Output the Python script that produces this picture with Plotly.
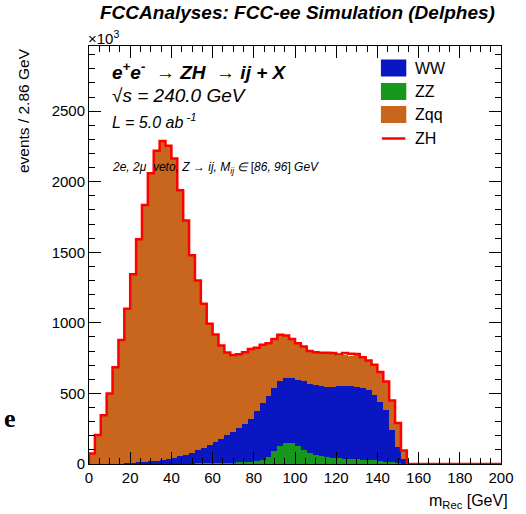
import numpy as np
import plotly.graph_objects as go

# ---------------- data (70 bins, 0-200 GeV, 2.86 GeV per bin) ----------------
x_lo, x_hi, n_bins = 0.0, 200.0, 70

zz = [0, 0, 0, 0, 0, 0, 0, 0, 1, 1, 1, 1, 1, 2, 2, 2, 3, 3, 4, 4,
      5, 6, 7, 8, 10, 12, 14, 17, 22, 30, 50, 92, 128, 152, 148, 125, 100, 80, 66, 56,
      48, 43, 40, 37, 35, 32, 30, 28, 25, 20, 15, 12, 7, 3, 0, 0, 0, 0, 0, 0,
      0, 0, 0, 0, 0, 0, 0, 0, 0, 0]

ww = [0, 0, 1, 1, 2, 3, 5, 8, 10, 14, 18, 23, 29, 34, 42, 52, 63, 77, 92, 110,
      129, 150, 173, 196, 218, 240, 266, 305, 353, 402, 434, 448, 460, 460, 458, 467, 485, 490, 492, 494,
      498, 505, 510, 513, 515, 513, 508, 494, 465, 420, 365, 228, 113, 35, 0, 0, 0, 0, 0, 0,
      0, 0, 0, 0, 0, 0, 0, 0, 0, 0]

zqq = [75, 205, 344, 499, 683, 875, 1095, 1337, 1581, 1820, 2041, 2196, 2258, 2219, 2121, 1886, 1659, 1400, 1204, 1021,
       859, 762, 660, 586, 545, 526, 512, 493, 448, 413, 372, 346, 327, 298, 280, 264, 247, 230, 234, 238,
       242, 234, 218, 222, 216, 225, 215, 211, 213, 212, 205, 210, 170, 58, 0, 0, 0, 0, 0, 0,
       0, 0, 0, 0, 0, 0, 0, 0, 0, 0]

zh = [0] * 41 + [4, 8, 14, 16, 10, 4] + [0] * 23

x_ticks = [0, 20, 40, 60, 80, 100, 120, 140, 160, 180, 200]
y_ticks = [0, 500, 1000, 1500, 2000, 2500]
y_tick_text = ["0", "500", "1000", "1500", "2000", "2500"]

# ---------------- styling ----------------
C_WW = "#0a16c2"
C_ZZ = "#17981c"
C_ZQQ = "#c9661d"
C_ZH = "#ff0000"
FONT = "Liberation Sans, Arial, Helvetica, sans-serif"

edges = np.linspace(x_lo, x_hi, n_bins + 1)
centers = 0.5 * (edges[:-1] + edges[1:])
bw = edges[1] - edges[0]

fig = go.Figure()
for name, vals, col in [("ZZ", zz, C_ZZ), ("WW", ww, C_WW), ("Zqq", zqq, C_ZQQ)]:
    fig.add_trace(go.Bar(x=centers, y=vals, width=bw, name=name,
                         marker=dict(color=col, line=dict(width=0)),
                         showlegend=False, hoverinfo="skip"))

total = np.array(zz) + np.array(ww) + np.array(zqq) + np.array(zh)
xs = np.concatenate([[x_lo], edges])
ys = np.concatenate([[0], total, [total[-1]]])
fig.add_trace(go.Scatter(x=xs, y=ys, mode="lines", line=dict(color=C_ZH, width=2.5, shape="hv"),
                         name="ZH", showlegend=False, hoverinfo="skip"))

axis_common = dict(showgrid=False, zeroline=False, showline=True, linecolor="black", linewidth=1,
                   mirror="allticks", ticks="inside", ticklen=12, tickwidth=1, tickcolor="black",
                   tickfont=dict(family=FONT, size=15, color="black"))

fig.update_layout(
    width=526, height=514,
    margin=dict(l=89, r=15, t=46, b=50),
    paper_bgcolor="white", plot_bgcolor="white",
    barmode="stack", bargap=0,
    showlegend=False,
    xaxis=dict(range=[x_lo, x_hi], tickvals=x_ticks, **axis_common,
               minor=dict(dtick=5, ticklen=6, ticks="inside", tickcolor="black")),
    yaxis=dict(range=[0, 2962], tickvals=y_ticks, ticktext=y_tick_text, **axis_common,
               minor=dict(dtick=100, ticklen=6, ticks="inside", tickcolor="black")),
)

# paper coordinate helpers (plot area: x 89..511 px, y 46..464 px)
def px(xp):
    return (xp - 89) / 422.0

def py(yp):
    return (464 - yp) / 418.0

ann = []
ann.append(dict(text="<b><i>FCCAnalyses: FCC-ee Simulation (Delphes)</i></b>", x=px(303), y=py(13),
                xanchor="center", yanchor="middle", font=dict(size=19)))
ann.append(dict(text="×10<sup>3</sup>", x=px(86), y=py(38), xanchor="left", yanchor="middle",
                font=dict(size=15)))
ann.append(dict(text="events / 2.86 GeV", x=px(22), y=1.0, xanchor="center", yanchor="top",
                textangle=-90, font=dict(size=15.5)))
ann.append(dict(text="m<sub>Rec</sub> [GeV]", x=px(520), y=py(502), xanchor="right", yanchor="middle",
                font=dict(size=16)))
ann.append(dict(text="<b><i>e<sup>+</sup>e<sup>-</sup>  → ZH  → ij + X</i></b>", x=px(110), y=py(71),
                xanchor="left", yanchor="middle", font=dict(size=19)))
ann.append(dict(text="<i>√s = 240.0 GeV</i>", x=px(110), y=py(96), xanchor="left", yanchor="middle",
                font=dict(size=19)))
ann.append(dict(text="<i>L = 5.0 ab<sup> -1</sup></i>", x=px(111), y=py(121), xanchor="left",
                yanchor="middle", font=dict(size=16)))
ann.append(dict(text="<i>2e, 2μ  veto, Z → ij, M<sub>ij</sub> ∈ </i>[<i>86, 96</i>]<i> GeV</i>", x=px(111),
                y=py(168), xanchor="left", yanchor="middle", font=dict(size=12)))
ann.append(dict(text="<b>e</b>", x=px(8), y=py(418), xanchor="center", yanchor="middle",
                font=dict(size=26, family="Liberation Serif, DejaVu Serif, serif")))

# legend
shapes = []
leg = [("WW", C_WW, 68), ("ZZ", C_ZZ, 91.5), ("Zqq", C_ZQQ, 114.5)]
for lab, col, yc in leg:
    shapes.append(dict(type="rect", xref="paper", yref="paper", x0=px(388), x1=px(414),
                       y0=py(yc + 8.5), y1=py(yc - 8.5), fillcolor=col, line=dict(width=0)))
    ann.append(dict(text=lab, x=px(421), y=py(yc), xanchor="left", yanchor="middle",
                    font=dict(size=16)))
shapes.append(dict(type="line", xref="paper", yref="paper", x0=px(389), x1=px(413),
                   y0=py(138.5), y1=py(138.5), line=dict(color=C_ZH, width=2.5)))
ann.append(dict(text="ZH", x=px(421), y=py(138.5), xanchor="left", yanchor="middle",
                font=dict(size=16)))

for a in ann:
    a.setdefault("xref", "paper")
    a.setdefault("yref", "paper")
    a["showarrow"] = False
    f = a.get("font", {})
    f.setdefault("family", FONT)
    f.setdefault("color", "black")
    a["font"] = f

fig.update_layout(annotations=ann, shapes=shapes)
fig.write_html("out.html")
